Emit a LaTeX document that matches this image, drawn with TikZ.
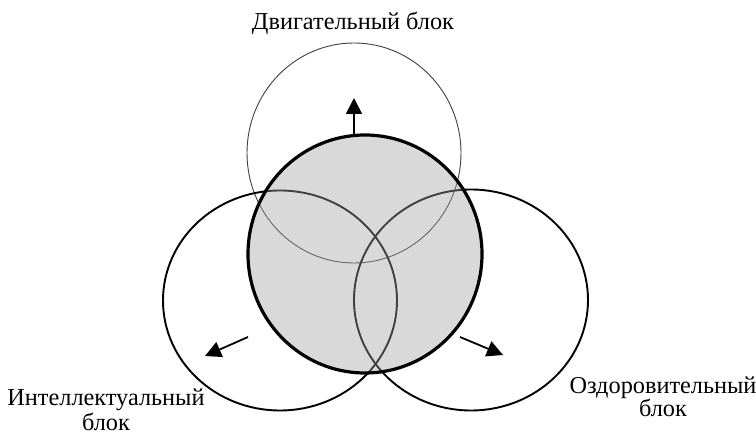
\documentclass[tikz,border=0pt]{standalone}
\usepackage{fontspec}
\setmainfont{Liberation Serif}
\usetikzlibrary{shapes.geometric,arrows.meta}
\begin{document}
\begin{tikzpicture}[x=1pt,y=-1pt,
  blob/.style={ellipse, inner sep=0pt, outer sep=0pt},
  outerring/.style={blob, draw=black, line width=1.9pt},
  topring/.style={blob, draw=black!75, line width=0.9pt},
  core/.style={blob, draw=black, line width=3.2pt, fill=black!37, fill opacity=0.4},
  pointer/.style={line width=1.8pt, -{Triangle[length=16pt,width=16pt]}},
  lbl/.style={align=center, inner sep=0pt, anchor=base}]
\useasboundingbox (0,0) rectangle (756,435);
\fill[white] (0,0) rectangle (756,435);
\node[topring, minimum width=214pt, minimum height=220pt] (motor) at (354,153) {};
\node[outerring, minimum width=234pt, minimum height=220pt] (intel) at (280,300.5) {};
\node[outerring, minimum width=234pt, minimum height=221pt] (health) at (471,300) {};
\node[core, minimum width=234pt, minimum height=238pt] (core) at (365,254) {};
\coordinate (upS) at (354,135);
\coordinate (upE) at (354,98);
\coordinate (lfS) at (248,337);
\coordinate (lfE) at (205,356);
\coordinate (rtS) at (460,337);
\coordinate (rtE) at (503,355);
\draw[pointer] (upS) -- (upE);
\draw[pointer] (lfS) -- (lfE);
\draw[pointer] (rtS) -- (rtE);
\node[lbl, font=\fontsize{24.3}{26}\selectfont] (motorlbl) at (353,29.5) {Двигательный блок};
\node[lbl, font=\fontsize{24.3}{25}\selectfont] (intellbl) at (106,430.5) {Интеллектуальный\\блок};
\node[lbl, font=\fontsize{24.3}{23.6}\selectfont] (healthlbl) at (663,416.7) {Оздоровительный\\блок};
\end{tikzpicture}
\end{document}
